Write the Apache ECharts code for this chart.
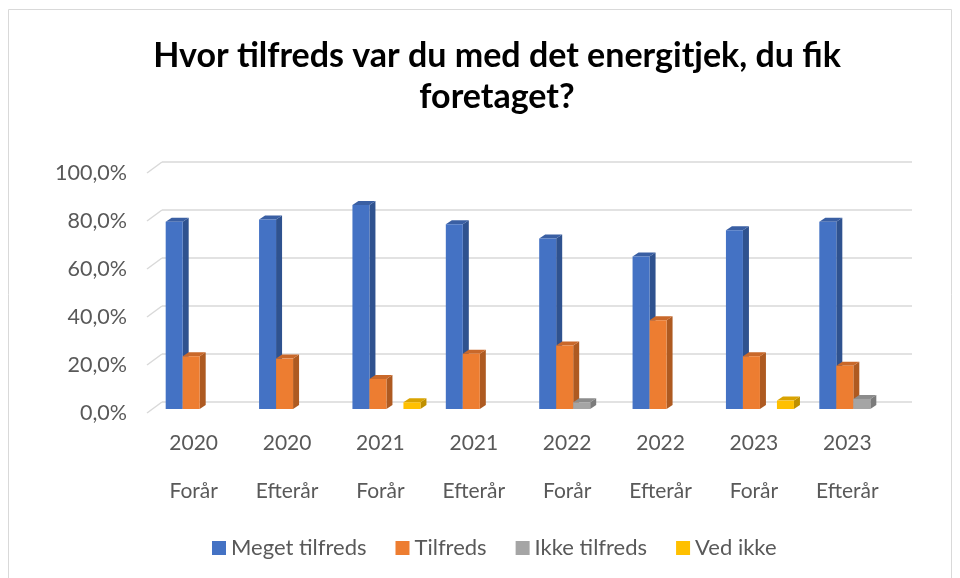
<!DOCTYPE html>
<html><head><meta charset="utf-8">
<script src="https://cdn.jsdelivr.net/npm/echarts@6/dist/echarts.min.js"></script>
<style>html,body{margin:0;padding:0;background:#fff}#c{width:960px;height:578px}</style>
</head><body><div id="c"></div>
<script>
const categories = ['2020\nForår','2020\nEfterår','2021\nForår','2021\nEfterår','2022\nForår','2022\nEfterår','2023\nForår','2023\nEfterår'];
const seriesNames = ['Meget tilfreds','Tilfreds','Ikke tilfreds','Ved ikke'];
const megetTilfreds = [78, 79, 85, 77, 71, 63.5, 74.5, 78];
const tilfreds      = [22, 21, 12.5, 23, 26.5, 37, 22, 18];
const ikkeTilfreds  = [0, 0, 0, 0, 2.8, 0, 0, 4.2];
const vedIkke       = [0, 0, 2.8, 0, 0, 0, 3.5, 0];
const yTicks = [0, 20, 40, 60, 80, 100];

const allValues = [megetTilfreds, tilfreds, ikkeTilfreds, vedIkke];
const palette = [
  {front:'#4472C4', side:'#2F528F', top:'#3A5FA3'},
  {front:'#ED7D31', side:'#AE5A21', top:'#C9682A'},
  {front:'#A5A5A5', side:'#7B7B7B', top:'#8C8C8C'},
  {front:'#FFC000', side:'#BF9000', top:'#D9A300'}
];
const FONT = 'Lato';
const BW = 17, DX = 6, DY = 4;

function barRenderer(k){
  return function(params, api){
    const ci = api.value(0), v = api.value(1);
    if (!v) return null;
    const top = api.coord([ci, v]);
    const base = api.coord([ci, 0]);
    const x0 = top[0] - 2*BW + k*BW;
    const yT = top[1], yB = base[1];
    const c = palette[k];
    return {type:'group', children:[
      {type:'polygon', shape:{points:[[x0+BW,yT],[x0+BW+DX,yT-DY],[x0+BW+DX,yB-DY],[x0+BW,yB]]}, style:{fill:c.side}},
      {type:'polygon', shape:{points:[[x0,yT],[x0+DX,yT-DY],[x0+BW+DX,yT-DY],[x0+BW,yT]]}, style:{fill:c.top}},
      {type:'rect', shape:{x:x0, y:yT, width:BW, height:yB-yT}, style:{fill:c.front}}
    ]};
  };
}

const chart = echarts.init(document.getElementById('c'));
const series = seriesNames.map((name, k) => ({
  name, type:'custom', xAxisIndex:2, yAxisIndex:2,
  itemStyle:{color:palette[k].front},
  renderItem: barRenderer(k),
  data: allValues[k].map((v,i)=>[i, v]),
  encode:{x:0, y:1}, z: 5
}));
// left diagonal wall edges
series.push({
  type:'custom', xAxisIndex:1, yAxisIndex:1, silent:true, z:2,
  data: yTicks.map(t=>[0, t]),
  renderItem: function(params, api){
    const p = api.coord([0, api.value(1)]);
    return {type:'line', shape:{x1:p[0]-15, y1:p[1]+11, x2:p[0], y2:p[1]}, style:{stroke:'#d9d9d9', lineWidth:1.5}};
  }
});

chart.setOption({
  animation:false,
  title:{
    text:'Hvor tilfreds var du med det energitjek, du fik\nforetaget?',
    left:492, top:31, textAlign:'center',
    textStyle:{fontFamily:FONT, fontWeight:'bold', fontSize:34, color:'#000', lineHeight:41}
  },
  legend:{
    data: seriesNames, left:207, top:532, icon:'rect', itemWidth:14, itemHeight:14, itemGap:29,
    textStyle:{fontFamily:FONT, fontSize:22, color:'#595959'}
  },
  graphic:[{type:'rect', shape:{x:8.5, y:9.5, width:943, height:580}, style:{fill:null, stroke:'#d9d9d9', lineWidth:1}, silent:true}],
  grid:[
    {left:147, right:66, top:173, bottom:165},
    {left:162, right:48, top:162, bottom:176},
    {left:153, right:60, top:169, bottom:169}
  ],
  xAxis:[
    {type:'category', gridIndex:0, data:categories, axisLine:{show:false}, axisTick:{show:false},
     axisLabel:{fontFamily:FONT, fontSize:21, color:'#595959', lineHeight:48, margin:6}},
    {type:'value', gridIndex:1, min:0, max:1, show:false},
    {type:'category', gridIndex:2, data:categories, show:false}
  ],
  yAxis:[
    {type:'value', gridIndex:0, min:0, max:100, interval:20, splitLine:{show:false}, axisLine:{show:false}, axisTick:{show:false},
     axisLabel:{fontFamily:FONT, fontSize:21.5, color:'#595959', margin:20, padding:[6,0,0,0],
       formatter: v => v.toFixed(1).replace('.', ',') + '%'}},
    {type:'value', gridIndex:1, min:0, max:100, interval:20, axisLabel:{show:false}, axisLine:{show:false}, axisTick:{show:false},
     splitLine:{show:true, lineStyle:{color:'#d9d9d9', width:1.5}}},
    {type:'value', gridIndex:2, min:0, max:100, show:false, splitLine:{show:false}}
  ],
  series
});
</script></body></html>
